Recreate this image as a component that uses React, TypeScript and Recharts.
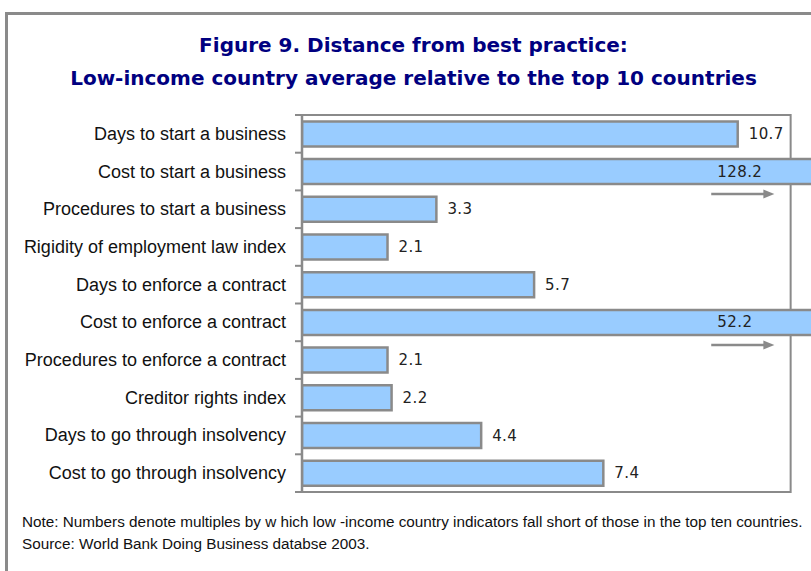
import React from "react";
import { BarChart, Bar, XAxis, YAxis, ReferenceArea, LabelList } from "recharts";

const categories = [
  "Days to start a business",
  "Cost to start a business",
  "Procedures to start a business",
  "Rigidity of employment law index",
  "Days to enforce a contract",
  "Cost to enforce a contract",
  "Procedures to enforce a contract",
  "Creditor rights index",
  "Days to go through insolvency",
  "Cost to go through insolvency",
];
const multiples = [10.7, 128.2, 3.3, 2.1, 5.7, 52.2, 2.1, 2.2, 4.4, 7.4];

// axis runs a bit past the frame, bars above frameMax are cut off and get an arrow
const axisMax = 12.5;
const frameMax = 12;
const overflowLabelAt = 10.2;
const arrowFrom = 10.05;
const arrowTo = 11.6;

const data = categories.map((name, i) => ({ name, value: multiples[i] }));

const CHART_W = 811;
const CHART_H = 571;
const MARGIN = { top: 115, right: 0, bottom: 79, left: 0 };
const AXIS_W = 302;
const plotW = CHART_W - MARGIN.left - MARGIN.right - AXIS_W;
const band = (CHART_H - MARGIN.top - MARGIN.bottom) / categories.length;

const GREY = "#8a8a8a";
const FONT = "'Liberation Sans', Arial, sans-serif";
const VALUE_FONT = "'DejaVu Sans', Verdana, sans-serif";

const CategoryTick = (props: any) => {
  const { y, payload, index } = props;
  const ax = MARGIN.left + AXIS_W;
  return (
    <g>
      <line x1={ax - 7} x2={ax} y1={y - band / 2} y2={y - band / 2} stroke={GREY} strokeWidth={2} />
      {index === categories.length - 1 && (
        <line x1={ax - 7} x2={ax} y1={y + band / 2} y2={y + band / 2} stroke={GREY} strokeWidth={2} />
      )}
      <text x={ax - 16} y={y} dy={6} textAnchor="end" fontSize={18} fill="#111" fontFamily={FONT}>
        {payload.value}
      </text>
    </g>
  );
};

const ValueLabel = (props: any) => {
  const { x, y, width, height, value } = props;
  const cy = y + height / 2;
  if (value > frameMax) {
    const unit = plotW / axisMax;
    const ay = y + height + 10;
    const x1 = x + arrowFrom * unit;
    const x2 = x + arrowTo * unit;
    return (
      <g>
        <text x={x + overflowLabelAt * unit} y={cy} dy={5} fontSize={15} letterSpacing={0.4} fill="#222" fontFamily={VALUE_FONT}>
          {value.toFixed(1)}
        </text>
        <line x1={x1} x2={x2 - 9} y1={ay} y2={ay} stroke={GREY} strokeWidth={2.5} />
        <polygon points={`${x2 - 11},${ay - 4.5} ${x2},${ay} ${x2 - 11},${ay + 4.5}`} fill={GREY} />
      </g>
    );
  }
  return (
    <text x={x + width + 11} y={cy} dy={5} fontSize={15} letterSpacing={0.4} fill="#222" fontFamily={VALUE_FONT}>
      {value.toFixed(1)}
    </text>
  );
};

export default function App() {
  return (
    <div style={{ position: "absolute", left: 0, top: 0, width: 811, height: 571, overflow: "hidden", background: "#fff" }}>
      <div
        style={{
          position: "absolute",
          left: 5,
          top: 12,
          width: 900,
          height: 700,
          border: `3px solid ${GREY}`,
          boxSizing: "border-box",
        }}
      />
      <div
        style={{
          position: "absolute",
          left: 0,
          top: 29,
          width: 827,
          textAlign: "center",
          color: "#000080",
          fontFamily: VALUE_FONT,
          fontWeight: "bold",
          fontSize: 20,
          lineHeight: "33px",
        }}
      >
        <div>Figure 9. Distance from best practice:</div>
        <div>Low-income country average relative to the top 10 countries</div>
      </div>
      <div style={{ position: "absolute", left: 0, top: 0 }}>
        <BarChart width={CHART_W} height={CHART_H} data={data} layout="vertical" margin={MARGIN} barCategoryGap="17%">
          <XAxis type="number" domain={[0, axisMax]} allowDataOverflow hide />
          <YAxis
            type="category"
            dataKey="name"
            width={AXIS_W}
            interval={0}
            tickLine={false}
            axisLine={{ stroke: GREY, strokeWidth: 2.5 }}
            tick={<CategoryTick />}
          />
          <ReferenceArea x1={0} x2={frameMax} fill="none" stroke={GREY} strokeWidth={2} />
          <Bar dataKey="value" fill="#99ccff" stroke={GREY} strokeWidth={2.5} isAnimationActive={false}>
            <LabelList dataKey="value" content={<ValueLabel />} />
          </Bar>
        </BarChart>
      </div>
      <div
        style={{
          position: "absolute",
          left: 22,
          top: 511,
          fontFamily: FONT,
          fontSize: 15.3,
          lineHeight: "22px",
          color: "#111",
          whiteSpace: "pre",
        }}
      >
        <div>Note: Numbers denote multiples by w hich low -income country indicators fall short of those in the top ten countries.</div>
        <div>Source: World Bank Doing Business databse 2003.</div>
      </div>
    </div>
  );
}
